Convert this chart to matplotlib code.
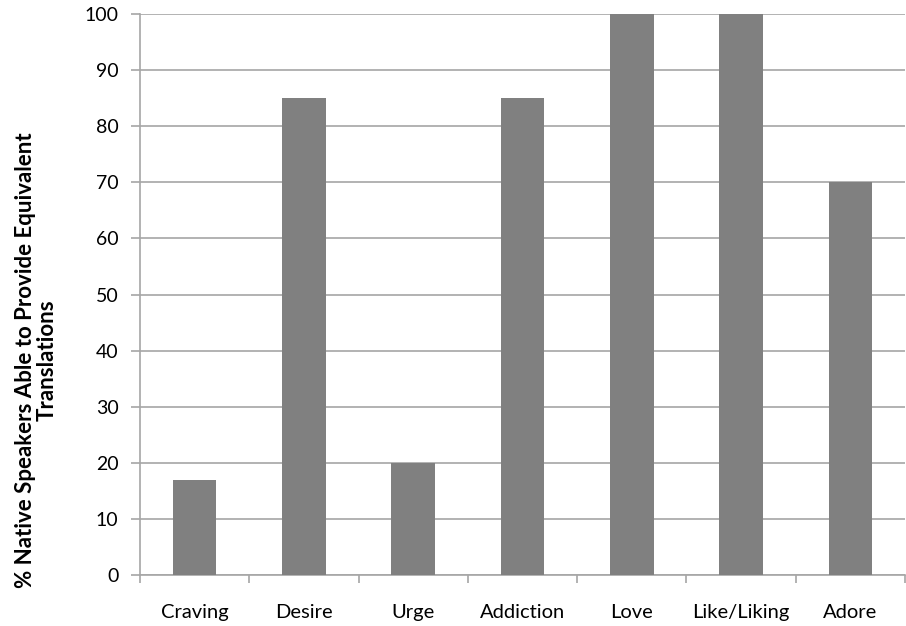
import matplotlib
matplotlib.use("Agg")
import matplotlib.pyplot as plt
import numpy as np

categories = ["Craving", "Desire", "Urge", "Addiction", "Love", "Like/Liking", "Adore"]
values = [17, 85, 20, 85, 100, 100, 70]

plt.rcParams['font.family'] = ['Lato', 'DejaVu Sans']

fig = plt.figure(figsize=(9.06, 6.26), dpi=100)
ax = fig.add_axes([0.1545, 0.0815, 0.8445, 0.896])

x = np.arange(len(categories))
ax.bar(x, values, width=0.4, color='#808080', zorder=3)

ax.set_xlim(-0.5, len(categories) - 0.5)
ax.set_ylim(0, 100)
ax.set_yticks(np.arange(0, 101, 10))
ax.yaxis.grid(True, color='#a6a6a6', linewidth=1.2, zorder=0)

ax.set_xticks(x)
ax.set_xticklabels(categories, fontsize=14.5)
ax.set_xticks(np.arange(-0.5, len(categories), 1), minor=True)
ax.tick_params(axis='x', which='major', length=0, pad=21)
ax.tick_params(axis='x', which='minor', length=6, color='#a6a6a6', width=1.2)
ax.tick_params(axis='y', length=6.5, color='#a6a6a6', width=1.2, labelsize=14, pad=9)

for s in ['top', 'right']:
    ax.spines[s].set_visible(False)
for s in ['left', 'bottom']:
    ax.spines[s].set_color('#a6a6a6')
    ax.spines[s].set_linewidth(1.2)

fig.text(36 / 906, 1 - 360 / 626,
         "% Native Speakers Able to Provide Equivalent\nTranslations",
         rotation=90, ha='center', va='center', multialignment='center',
         fontsize=16, fontweight='bold', linespacing=1.05)

fig.savefig("out.png", dpi=100)
